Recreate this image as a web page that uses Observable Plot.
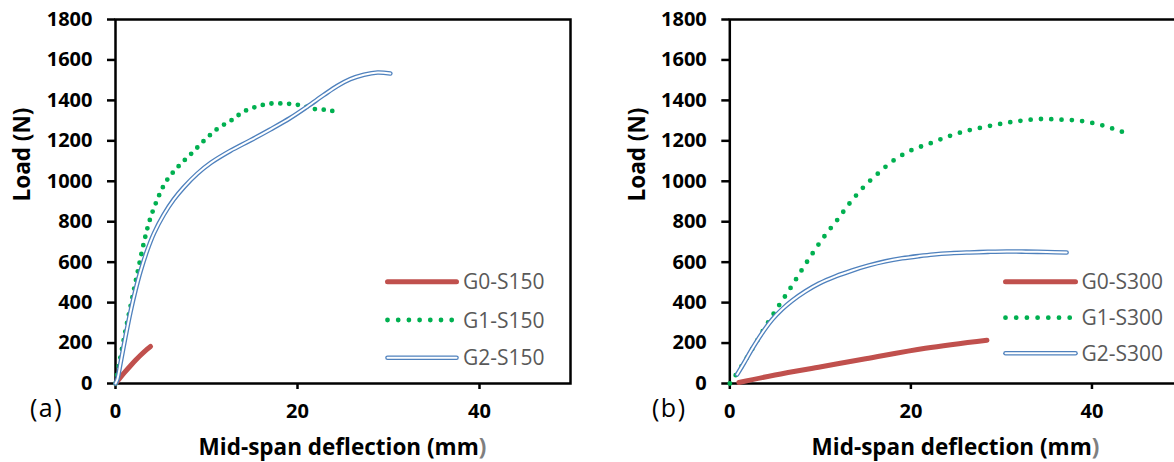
<!DOCTYPE html>
<html>
<head>
<meta charset="utf-8">
<script src="https://cdn.jsdelivr.net/npm/d3@7"></script>
<script src="https://cdn.jsdelivr.net/npm/@observablehq/plot@0.6"></script>
<style>
  html, body { margin: 0; padding: 0; background: #fff; overflow: hidden; }
  #wrap { position: relative; width: 1174px; height: 462px; overflow: hidden; }
  #wrap > .panel { position: absolute; top: 0; }
  #overlay { position: absolute; left: 0; top: 0; pointer-events: none; }
</style>
</head>
<body>
<div id="wrap"></div>
<script>
// ---- Data ----
const xTicks = [0, 20, 40];
const yTicks = [0, 200, 400, 600, 800, 1000, 1200, 1400, 1600, 1800];
const xLabelMain = "Mid-span deflection (mm";
const xLabelEnd = ")";
const yLabel = "Load (N)";

// Panel (a) : span 150
const g0s150Defl = [0, 0.5, 1, 1.65, 2.2, 2.75, 3.3, 3.85];
const g0s150Load = [0, 28, 55, 88, 115, 140, 163, 183];

const g1s150Defl = [0, 0.37, 1.03, 1.72, 2.45, 3.19, 3.77, 4.58, 5.57, 6.88, 8.3, 9.78, 11.25, 12.82, 14.1, 15.56, 17.0, 18.7, 20.3, 21.8, 23.3, 24.65];
const g1s150Load = [0, 89, 246, 397, 555, 710, 809, 908, 1000, 1072, 1135, 1203, 1261, 1304, 1345, 1370, 1384, 1384, 1376, 1358, 1352, 1340];

const g2s150Defl = [0, 0.2, 0.55, 1.1, 1.65, 2.2, 2.75, 3.5, 4.25, 5.3, 6.4, 7.5, 9.0, 10.5, 12.6, 14.8, 17.0, 19.2, 21.1, 22.9, 24.4, 25.8, 27.3, 28.8, 30.2];
const g2s150Load = [0, 20, 100, 232, 355, 462, 555, 660, 745, 835, 910, 970, 1038, 1092, 1150, 1202, 1256, 1313, 1370, 1427, 1472, 1505, 1527, 1538, 1533];

// Panel (b) : span 300
const g0s300Defl = [1.0, 5, 10.1, 15, 21.6, 28.4];
const g0s300Load = [5, 42, 83, 122, 174, 214];

const g1s300Defl = [0, 0.33, 1.62, 2.84, 4.05, 5.3, 6.6, 7.85, 9.1, 10.43, 11.87, 13.23, 14.73, 16.35, 18.12, 20.07, 22.1, 24.39, 26.3, 28.4, 30.4, 32.3, 34.4, 36.4, 38.5, 40.5, 42.4, 44.0];
const g1s300Load = [0, 20, 108, 198, 289, 377, 465, 554, 641, 727, 809, 891, 969, 1038, 1104, 1154, 1187, 1226, 1251, 1271, 1288, 1300, 1308, 1305, 1300, 1284, 1259, 1234];

const g2s300Defl = [0.81, 1.55, 2.47, 3.58, 4.68, 5.79, 6.89, 8.36, 9.84, 11.68, 13.52, 15.36, 17.2, 19.04, 20.88, 22.5, 24.4, 26.5, 28.5, 30.6, 32.7, 35, 37.2];
const g2s300Load = [45, 100, 172, 250, 316, 368, 410, 456, 494, 530, 559, 584, 604, 619, 630, 638, 644, 648, 651, 653, 652, 650, 648];

const namesA = ["G0-S150", "G1-S150", "G2-S150"];
const namesB = ["G0-S300", "G1-S300", "G2-S300"];
const colors = ["#C0504D", "#00B050", "#4F81BD"];

const toRows = (xs, ys) => xs.map((x, i) => ({x, y: ys[i]}));

function panel({g0, g1, g2, width, marginLeft, marginRight, dotGap}) {
  return Plot.plot({
    width, height: 462,
    marginLeft, marginRight, marginTop: 19, marginBottom: 79,
    style: {fontFamily: "'Open Sans', sans-serif", fontSize: "20px", fontWeight: "bold", color: "#000", background: "transparent", overflow: "visible"},
    x: {domain: [0, 50]},
    y: {domain: [0, 1800]},
    marks: [
      Plot.axisX({ticks: xTicks, tickSize: 6, tickPadding: 14, strokeWidth: 2.5, label: null}),
      Plot.axisY({ticks: yTicks, tickFormat: d3.format("d"), tickSize: 8, tickPadding: 15, strokeWidth: 2.5, label: null}),
      Plot.text([yLabel], {frameAnchor: "left", dx: -101, rotate: -90, lineAnchor: "top", fontSize: 22.5, fill: "#000"}),
      Plot.frame({stroke: "#000", strokeWidth: 2.5}),
      Plot.line(g0, {x: "x", y: "y", stroke: colors[0], strokeWidth: 5, strokeLinecap: "round", curve: "catmull-rom"}),
      Plot.line(g1, {x: "x", y: "y", stroke: colors[1], strokeWidth: 4.8, strokeLinecap: "round", strokeDasharray: `0 ${dotGap}`, curve: "catmull-rom"}),
      Plot.line(g2, {x: "x", y: "y", stroke: colors[2], strokeWidth: 4.6, strokeLinecap: "round", curve: "catmull-rom"}),
      Plot.line(g2, {x: "x", y: "y", stroke: "#fff", strokeWidth: 2.0, strokeLinecap: "round", curve: "catmull-rom"})
    ]
  });
}

const wrap = document.getElementById("wrap");
const pa = panel({
  g0: toRows(g0s150Defl, g0s150Load), g1: toRows(g1s150Defl, g1s150Load), g2: toRows(g2s150Defl, g2s150Load),
  width: 587, marginLeft: 115, marginRight: 17, dotGap: 8.8
});
pa.classList.add("panel"); pa.style.left = "0px";
wrap.appendChild(pa);

const pb = panel({
  g0: toRows(g0s300Defl, g0s300Load), g1: toRows(g1s300Defl, g1s300Load), g2: toRows(g2s300Defl, g2s300Load),
  width: 600, marginLeft: 142.3, marginRight: 5, dotGap: 10.3
});
pb.classList.add("panel"); pb.style.left = "587px";
wrap.appendChild(pb);

// ---- Overlay: axis titles, legends and panel letters ----
const svg = d3.select(wrap).append("svg").attr("id", "overlay").attr("width", 1174).attr("height", 462)
  .style("font-family", "'Open Sans', sans-serif");

function xTitle(cx) {
  const t = svg.append("text").attr("x", cx).attr("y", 455).attr("text-anchor", "middle")
    .attr("font-size", 22.5).attr("font-weight", "bold").attr("fill", "#000");
  t.append("tspan").text(xLabelMain);
  t.append("tspan").attr("fill", "#7f7f7f").text(xLabelEnd);
}
xTitle(342.5);
xTitle(955.5);

function legend(x0, x1, tx, ys, names) {
  const g = svg.append("g");
  g.append("line").attr("x1", x0).attr("x2", x1).attr("y1", ys[0]).attr("y2", ys[0])
    .attr("stroke", colors[0]).attr("stroke-width", 5).attr("stroke-linecap", "round");
  g.append("line").attr("x1", x0).attr("x2", x1).attr("y1", ys[1]).attr("y2", ys[1])
    .attr("stroke", colors[1]).attr("stroke-width", 4.8).attr("stroke-linecap", "round").attr("stroke-dasharray", "0 10.7");
  g.append("line").attr("x1", x0).attr("x2", x1).attr("y1", ys[2]).attr("y2", ys[2])
    .attr("stroke", colors[2]).attr("stroke-width", 4.6).attr("stroke-linecap", "round");
  g.append("line").attr("x1", x0).attr("x2", x1).attr("y1", ys[2]).attr("y2", ys[2])
    .attr("stroke", "#fff").attr("stroke-width", 2.0).attr("stroke-linecap", "round");
  names.forEach((n, i) => {
    g.append("text").attr("x", tx).attr("y", ys[i] + 7.5).attr("fill", "#595959")
      .attr("font-size", 21).text(n);
  });
}
legend(387.5, 456.5, 463, [281.7, 320, 357.7], namesA);
legend(1005.5, 1075.5, 1081.5, [281.7, 317.7, 353.3], namesB);

svg.append("text").attr("x", 30).attr("y", 417).attr("font-size", 25).attr("letter-spacing", 1.5).attr("fill", "#000").text("(a)");
svg.append("text").attr("x", 652).attr("y", 417).attr("font-size", 25).attr("letter-spacing", 1.5).attr("fill", "#000").text("(b)");
</script>
</body>
</html>
